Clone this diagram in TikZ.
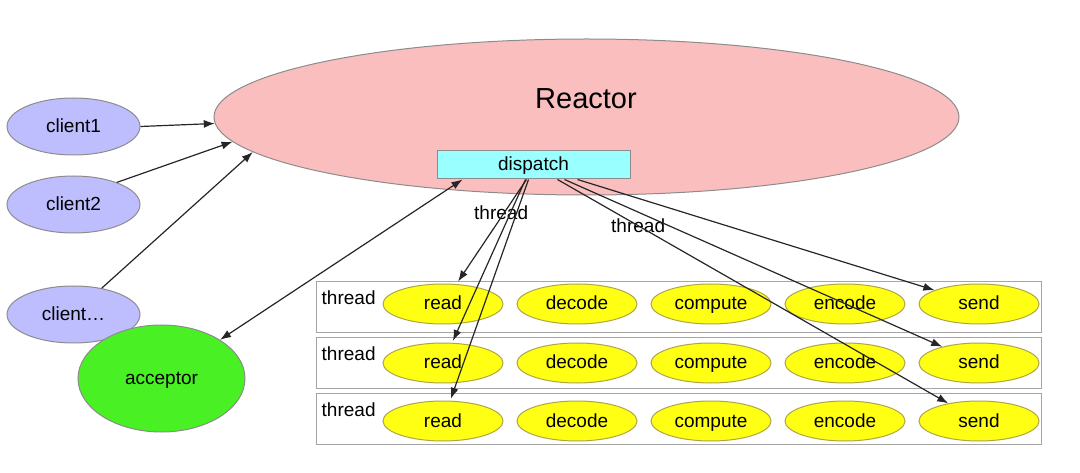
\documentclass[tikz,border=0pt]{standalone}
\usepackage{fontspec}
\setmainfont{Liberation Sans}
\usetikzlibrary{positioning}
\usetikzlibrary{shapes.geometric}
\usetikzlibrary{arrows.meta}
\definecolor{reactorpink}{RGB}{250,190,190}
\definecolor{dispatchcyan}{RGB}{153,255,255}
\definecolor{clientblue}{RGB}{190,190,255}
\definecolor{acceptgreen}{RGB}{72,240,36}
\definecolor{taskyellow}{RGB}{255,255,20}
\definecolor{taskborder}{RGB}{175,165,70}
\definecolor{bordergray}{RGB}{140,140,140}
\definecolor{rowgray}{RGB}{165,165,165}
\tikzset{
	big/.style={ellipse, draw=bordergray, line width=1pt, inner sep=0pt, text height=12pt, text depth=0pt},
	client/.style={big, fill=clientblue, minimum width=133pt, minimum height=57pt},
	task/.style={ellipse, draw=taskborder, line width=1pt, inner sep=0pt, minimum width=120pt, minimum height=40pt, fill=taskyellow, text height=12pt, text depth=0pt},
	threadrow/.style={draw=rowgray, rectangle, line width=1pt, minimum width=725pt, minimum height=51pt, fill=white},
	% thread labels
	tag/.style={anchor=base west, inner sep=0pt},
}

\begin{document}
\begin{tikzpicture}[x=1pt, y=-1pt, font=\fontsize{19}{23}\selectfont]
	\useasboundingbox (0,0) rectangle (1080,473);
	
	\node (reactor) [big, fill=reactorpink, minimum width=745pt, minimum height=156pt] at (586.5,117) {};
	\node (title) [anchor=base, font=\fontsize{29}{34}\selectfont] at (586,109) {Reactor};
	\node (dispatch) [draw=bordergray, rectangle, line width=1pt, fill=dispatchcyan, minimum width=193pt, minimum height=28pt, inner sep=0pt, text height=12pt, text depth=0pt] at (533.5,165) {dispatch};
	
	\node (client1) [client] at (73.5,126.5) {client1};
	\node (client2) [client] at (73.5,204.5) {client2};
	\node (client3) [client] at (73.5,314.5) {client…};
	\node (acceptor) [big, fill=acceptgreen, minimum width=167pt, minimum height=107pt] at (161.5,378.5) {acceptor};
	
	\node (row1) [threadrow] at (678.5,307.5) {};
	\node (row2) [threadrow] at (678.5,363) {};
	\node (row3) [threadrow] at (678.5,418.5) {};
	
	\node (t1) [tag] at ([xshift=6pt, yshift=-23.5pt]row1.north west) {thread};
	\node (t2) [tag] at ([xshift=6pt, yshift=-23.5pt]row2.north west) {thread};
	\node (t3) [tag] at ([xshift=6pt, yshift=-23.5pt]row3.north west) {thread};
	
	\node (read1) [task] at (443,304) {read};
	\node (decode1) [task, right=13pt of read1] {decode};
	\node (compute1) [task, right=13pt of decode1] {compute};
	\node (encode1) [task, right=13pt of compute1] {encode};
	\node (send1) [task, right=13pt of encode1] {send};
	
	\node (read2) [task] at (443,363) {read};
	\node (decode2) [task, right=13pt of read2] {decode};
	\node (compute2) [task, right=13pt of decode2] {compute};
	\node (encode2) [task, right=13pt of compute2] {encode};
	\node (send2) [task, right=13pt of encode2] {send};
	
	\node (read3) [task] at (443,421) {read};
	\node (decode3) [task, right=13pt of read3] {decode};
	\node (compute3) [task, right=13pt of decode3] {compute};
	\node (encode3) [task, right=13pt of compute3] {encode};
	\node (send3) [task, right=13pt of encode3] {send};
	
	\node (lread) [tag] at (474,220) {thread};
	\node (lsend) [tag] at (611,233) {thread};
	
	\begin{scope}[line width=1.2pt, black!85, -{Latex[length=11pt, width=8pt]}]
		\draw (client1.east) -- (reactor.181);
		\draw (client2.27) -- (reactor.184);
		\draw (client3.43) -- (reactor.186);
		
		\draw[{Latex[length=11pt, width=8pt]}-{Latex[length=11pt, width=8pt]}] (acceptor) -- ([xshift=26pt]dispatch.south west);
		
		\draw[shorten >=3pt] ([xshift=90pt]dispatch.south west) -- (read1);
		\draw[shorten >=2pt] ([xshift=89pt]dispatch.south west) -- (read2);
		\draw[shorten >=2pt] ([xshift=92pt]dispatch.south west) -- (read3);
		
		\draw ([xshift=141pt]dispatch.south west) -- (send1);
		\draw ([xshift=128pt]dispatch.south west) -- (send2);
		\draw ([xshift=121pt]dispatch.south west) -- (send3);
	\end{scope}
	
\end{tikzpicture}
\end{document}
